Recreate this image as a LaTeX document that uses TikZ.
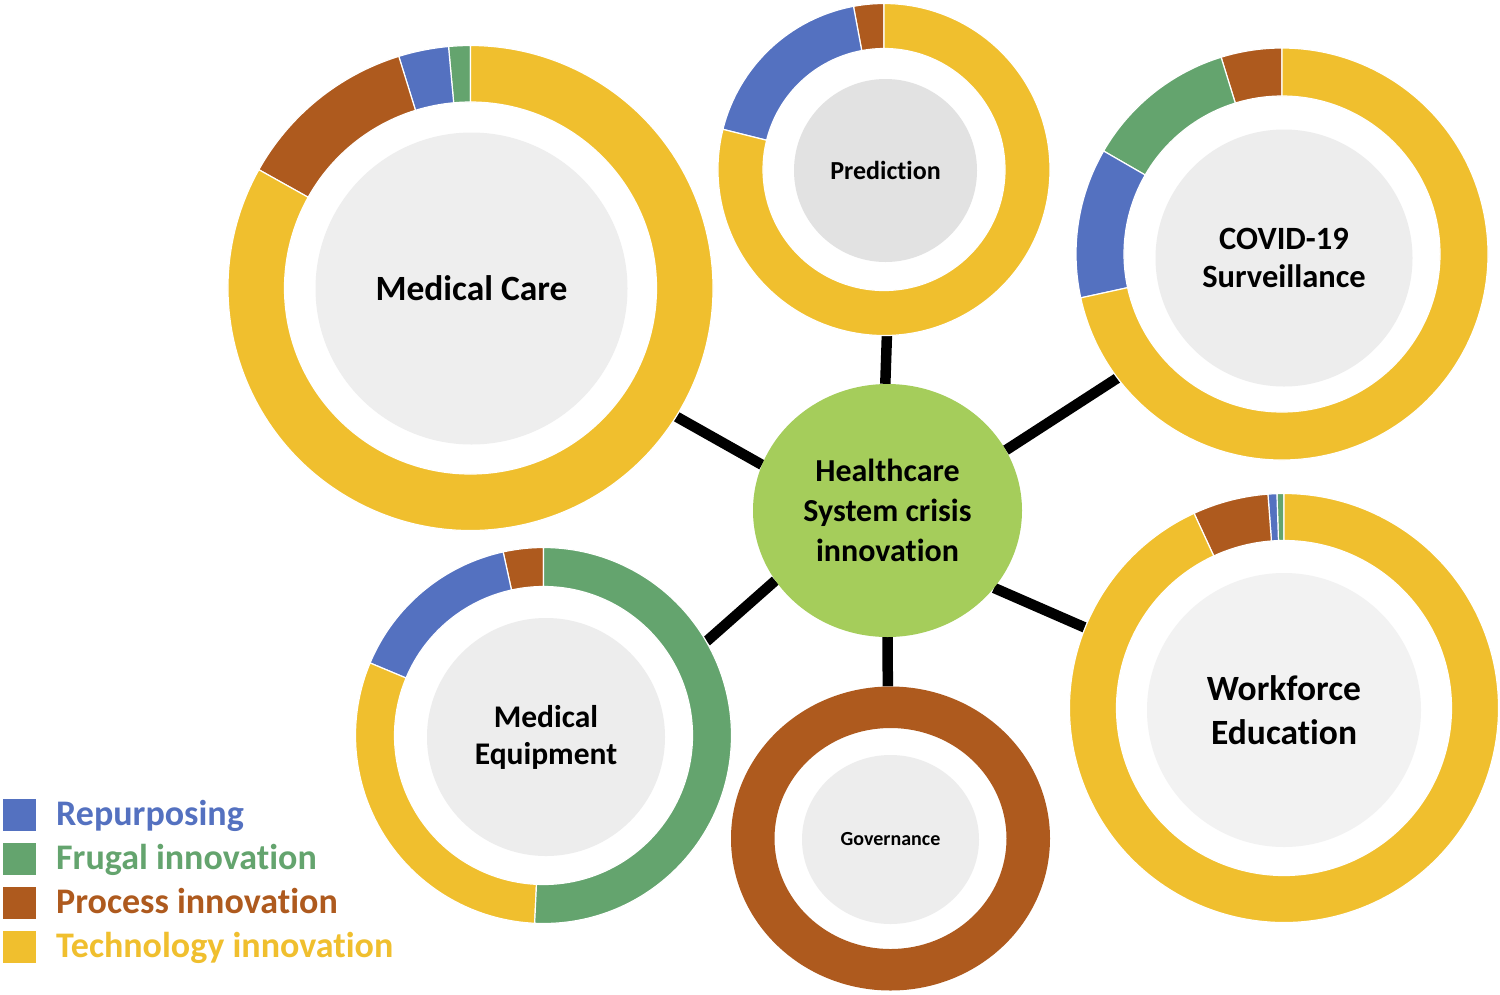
\documentclass[tikz,border=0pt]{standalone}
\usepackage{fontspec}
\setmainfont{Carlito}[Ligatures=NoCommon]
\usetikzlibrary{shapes.geometric,backgrounds}
\definecolor{cblue}{HTML}{5471C0}
\definecolor{cgreen}{HTML}{64A46E}
\definecolor{cbrown}{HTML}{AE5A1E}
\definecolor{cyellow}{HTML}{F0BF2E}
\definecolor{chub}{HTML}{A5CD5B}
\newcommand\ringseg[7]{%
  \filldraw[fill=#7, draw=white, line width=1.2pt, shift={(#1pt,#2pt)}]
    (#5:#4pt) arc[start angle=#5, end angle=#6, radius=#4pt]
    -- (#6:#3pt) arc[start angle=#6, end angle=#5, radius=#3pt] -- cycle;}
\tikzset{
  anchorring/.style={circle, inner sep=0pt, minimum size=#1},
  graydisc/.style={circle, inner sep=0pt, minimum size=#1, align=center, font=\bfseries},
  conn/.style={line width=10.5pt, line cap=butt, black},
  legsq/.style={rectangle, inner sep=0pt, minimum width=33pt, minimum height=32pt, anchor=north west},
  legtxt/.style={anchor=base west, inner sep=0pt, font=\fontsize{36}{40}\selectfont\bfseries},
}
\begin{document}
\begin{tikzpicture}[x=1pt,y=1pt]
\useasboundingbox (0,0) rectangle (1500,-994);

% ---------- Medical Care ----------
\node[anchorring=485pt] (mc) at (470.5,-288) {};
\ringseg{470.5}{-288}{186}{242.5}{90}{95.2}{cgreen}
\ringseg{470.5}{-288}{186}{242.5}{95.2}{107.2}{cblue}
\ringseg{470.5}{-288}{186}{242.5}{107.2}{150.8}{cbrown}
\ringseg{470.5}{-288}{186}{242.5}{150.8}{450}{cyellow}
\node[graydisc=312pt, fill={rgb,255:red,238;green,238;blue,238}, font=\fontsize{35.5}{40}\selectfont\bfseries] (mcg) at (471.5,-288.5) {Medical Care};

% ---------- Prediction ----------
\node[anchorring=332pt] (pred) at (884,-169.5) {};
\ringseg{884}{-169.5}{121}{166}{90}{100.6}{cbrown}
\ringseg{884}{-169.5}{121}{166}{100.6}{166}{cblue}
\ringseg{884}{-169.5}{121}{166}{166}{450}{cyellow}
\node[graydisc=183pt, fill={rgb,255:red,226;green,226;blue,226}, font=\fontsize{26}{32}\selectfont\bfseries] (predg) at (885.5,-170.5) {Prediction};

% ---------- COVID-19 Surveillance ----------
\node[anchorring=412pt] (cov) at (1282,-254) {};
\ringseg{1282}{-254}{158}{206}{90}{107.2}{cbrown}
\ringseg{1282}{-254}{158}{206}{107.2}{150}{cgreen}
\ringseg{1282}{-254}{158}{206}{150}{192.3}{cblue}
\ringseg{1282}{-254}{158}{206}{192.3}{450}{cyellow}
\node[graydisc=257pt, fill={rgb,255:red,237;green,237;blue,237}, font=\fontsize{32.5}{38}\selectfont\bfseries] (covg) at (1284,-258) {\raisebox{-2pt}{COVID-19}\\\raisebox{-2pt}{Surveillance}};

% ---------- Workforce Education ----------
\node[anchorring=429pt] (wf) at (1284,-708) {};
\ringseg{1284}{-708}{167.5}{214.5}{90}{91.9}{cgreen}
\ringseg{1284}{-708}{167.5}{214.5}{91.9}{94.3}{cblue}
\ringseg{1284}{-708}{167.5}{214.5}{94.3}{114.8}{cbrown}
\ringseg{1284}{-708}{167.5}{214.5}{114.8}{450}{cyellow}
\node[graydisc=274pt, fill={rgb,255:red,242;green,242;blue,242}, font=\fontsize{35.5}{44}\selectfont\bfseries] (wfg) at (1284,-710) {Workforce\\Education};

% ---------- Medical Equipment ----------
\node[anchorring=376pt] (me) at (543.5,-735.5) {};
\ringseg{543.5}{-735.5}{149}{188}{90}{102.4}{cbrown}
\ringseg{543.5}{-735.5}{149}{188}{102.4}{157.3}{cblue}
\ringseg{543.5}{-735.5}{149}{188}{157.3}{267.3}{cyellow}
\ringseg{543.5}{-735.5}{149}{188}{267.3}{450}{cgreen}
\node[graydisc=238pt, fill={rgb,255:red,237;green,237;blue,237}, font=\fontsize{31.5}{37}\selectfont\bfseries] (meg) at (546,-737) {\raisebox{-2pt}{Medical}\\\raisebox{-2pt}{Equipment}};

% ---------- Governance ----------
\node[ellipse, inner sep=0pt, minimum width=319pt, minimum height=304pt] (gov) at (890.5,-838.5) {};
\fill[cbrown, even odd rule] (890.5,-838.5) ellipse[x radius=159.5, y radius=152]
  (890.5,-838.5) ellipse[x radius=116, y radius=110.5];
\node[ellipse, inner sep=0pt, minimum width=177pt, minimum height=169pt, fill={rgb,255:red,237;green,237;blue,237}, font=\fontsize{20}{24}\selectfont\bfseries] (govg) at (890.5,-839.5) {\raisebox{-1.5pt}{Governance}};

% ---------- Hub ----------
\node[ellipse, inner sep=0pt, minimum width=269pt, minimum height=253pt, fill=chub, align=center, font=\fontsize{32}{40}\selectfont\bfseries] (hub) at (887.5,-510.5) {\raisebox{-1.5pt}{Healthcare}\\\raisebox{-1.5pt}{System crisis}\\\raisebox{-1.5pt}{innovation}};

% ---------- Legend ----------
\node[legsq, fill=cblue] (lq1) at (3,-799) {};
\node[legsq, fill=cgreen] (lq2) at (3,-843) {};
\node[legsq, fill=cbrown] (lq3) at (3,-887) {};
\node[legsq, fill=cyellow] (lq4) at (3,-931) {};
\node[legtxt, text=cblue] (lt1) at (56,-825.5) {Repurposing};
\node[legtxt, text=cgreen] (lt2) at (56,-869) {Frugal innovation};
\node[legtxt, text=cbrown] (lt3) at (56,-913.5) {Process innovation};
\node[legtxt, text=cyellow] (lt4) at (56,-957.5) {Technology innovation};

% ---------- Connectors ----------
\begin{pgfonlayer}{background}
\fill[white] (0,0) rectangle (1500,-994);
\draw[conn] (hub.160) -- (mc.-32.7);
\draw[conn] (hub.212.9) -- (me.30.6);
\draw[conn] (hub.91) -- (pred.-89.5);
\draw[conn] (hub.-90.7) -- (gov.91.5);
\draw[conn] (hub.27.5) -- (cov.217.3);
\draw[conn] (hub.-36.4) -- (wf.158.4);
\end{pgfonlayer}
\end{tikzpicture}
\end{document}
